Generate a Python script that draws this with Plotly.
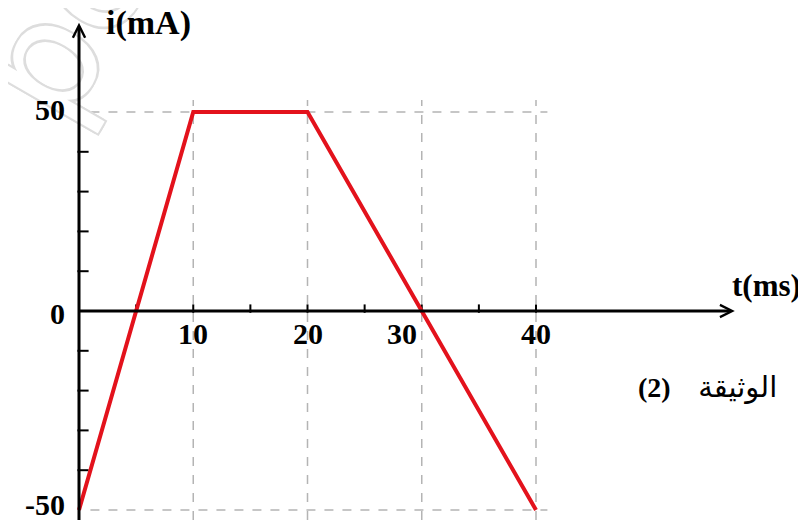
import plotly.graph_objects as go

# ---- data ----
t_ms = [0, 10, 20, 40]
i_mA = [-50, 50, 50, -50]
x_tick_vals = [10, 20, 30, 40]
x_tick_labels = ["10", "20", "30", "40"]
y_tick_vals = [50, 0, -50]
y_tick_labels = ["50", "0", "-50"]
x_minor = [5, 10, 15, 20, 25, 30, 35, 40]
y_minor = [-40, -30, -20, -10, 10, 20, 30, 40, 50]

W, H = 806, 520
OFF = 8                       # page body margin (figure drawn 8px from window corner)
X0_PX, XK = 79 - OFF, 11.425  # figure pixel of t=0, px per ms
Y0_PX, YK = 311 - OFF, 3.98   # figure pixel of i=0, px per mA
xr = [-X0_PX / XK, (W - X0_PX) / XK]
yr = [-(H - Y0_PX) / YK, Y0_PX / YK]

SERIF = "Liberation Serif, Times New Roman, serif"
grid_col = "#b4b4b4"

fig = go.Figure()

# dashed guide lines
for xv in x_tick_vals:
    fig.add_trace(go.Scatter(x=[xv, xv], y=[-52.5, 53], mode="lines",
                             line=dict(color=grid_col, width=1.5, dash="9px,9px"),
                             hoverinfo="skip", showlegend=False))
for yv in [50, -50]:
    fig.add_trace(go.Scatter(x=[1, 41], y=[yv, yv], mode="lines",
                             line=dict(color=grid_col, width=1.5, dash="9px,9px"),
                             hoverinfo="skip", showlegend=False))

# small ticks
fig.add_trace(go.Scatter(x=[0.35] * len(y_minor), y=y_minor, mode="markers",
                         marker=dict(symbol="line-ew", size=8, line=dict(color="black", width=2)),
                         hoverinfo="skip", showlegend=False))
fig.add_trace(go.Scatter(x=x_minor, y=[0.6] * len(x_minor), mode="markers",
                         marker=dict(symbol="line-ns", size=6, line=dict(color="black", width=2)),
                         hoverinfo="skip", showlegend=False))

# current curve
fig.add_trace(go.Scatter(x=t_ms, y=i_mA, mode="lines",
                         line=dict(color="#e3121c", width=4), hoverinfo="skip", showlegend=False))

annotations = []
# watermark (drawn first, beneath the other annotations)
annotations.append(dict(x=66, y=22, xref="paper", yref="paper", text="pe",
                        showarrow=False, xanchor="center", yanchor="middle", textangle=-60,
                        font=dict(family="DejaVu Sans, sans-serif", size=150, color="white",
                                  shadow="2px 2px 0 #dddddd, -2px -2px 0 #dddddd, 2px -2px 0 #dddddd, -2px 2px 0 #dddddd")))

# axes with arrowheads
annotations.append(dict(x=57.4, y=0, ax=-0.2, ay=0, xref="x", yref="y", axref="x", ayref="y",
                        text="", showarrow=True, arrowhead=5, arrowsize=0.8, arrowwidth=3,
                        arrowcolor="black", standoff=0, startstandoff=0))
annotations.append(dict(x=0, y=72.4, ax=0, ay=yr[0], xref="x", yref="y", axref="x", ayref="y",
                        text="", showarrow=True, arrowhead=5, arrowsize=0.8, arrowwidth=3,
                        arrowcolor="black", standoff=0, startstandoff=0))

# x tick labels
x_shift = {"10": 0, "20": 0, "30": -20, "40": 0}
for xv, lab in zip(x_tick_vals, x_tick_labels):
    annotations.append(dict(x=xv, y=0, xref="x", yref="y", text=f"<b>{lab}</b>", showarrow=False,
                            xanchor="center", yanchor="top", yshift=-4, xshift=x_shift[lab],
                            font=dict(family=SERIF, size=30, color="black")))
# y tick labels
y_shift = {"50": 3, "0": -2, "-50": 6}
for yv, lab in zip(y_tick_vals, y_tick_labels):
    annotations.append(dict(x=0, y=yv, xref="x", yref="y", text=f"<b>{lab}</b>", showarrow=False,
                            xanchor="right", yanchor="middle", xshift=-12, yshift=y_shift[lab],
                            font=dict(family=SERIF, size=30, color="black")))

# axis titles (positions in window pixels)
annotations.append(dict(x=104, y=23, xref="paper", yref="paper", text="<b>i(mA)</b>",
                        showarrow=False, xanchor="left", yanchor="middle",
                        font=dict(family=SERIF, size=34, color="black")))
annotations.append(dict(x=803, y=285, xref="paper", yref="paper", text="<b>t(ms)</b>",
                        showarrow=False, xanchor="right", yanchor="middle",
                        font=dict(family=SERIF, size=31, color="black")))
annotations.append(dict(x=779, y=387, xref="paper", yref="paper",
                        text="الوثيقة   <span style='font-family:Liberation Serif;font-size:28px'><b>(2)</b></span>",
                        showarrow=False, xanchor="right", yanchor="middle",
                        font=dict(family="DejaVu Sans, sans-serif", size=29, color="black")))

# convert window-pixel annotations to paper fractions
for a in annotations:
    if a.get("xref") == "paper":
        a["x"] = (a["x"] - OFF) / W
        a["y"] = 1 - (a["y"] - OFF) / H

fig.update_layout(
    width=W, height=H,
    margin=dict(l=0, r=0, t=0, b=0),
    paper_bgcolor="white", plot_bgcolor="white",
    xaxis=dict(range=xr, visible=False, fixedrange=True),
    yaxis=dict(range=yr, visible=False, fixedrange=True),
    annotations=annotations,
    showlegend=False,
)

fig.write_html("out.html")
